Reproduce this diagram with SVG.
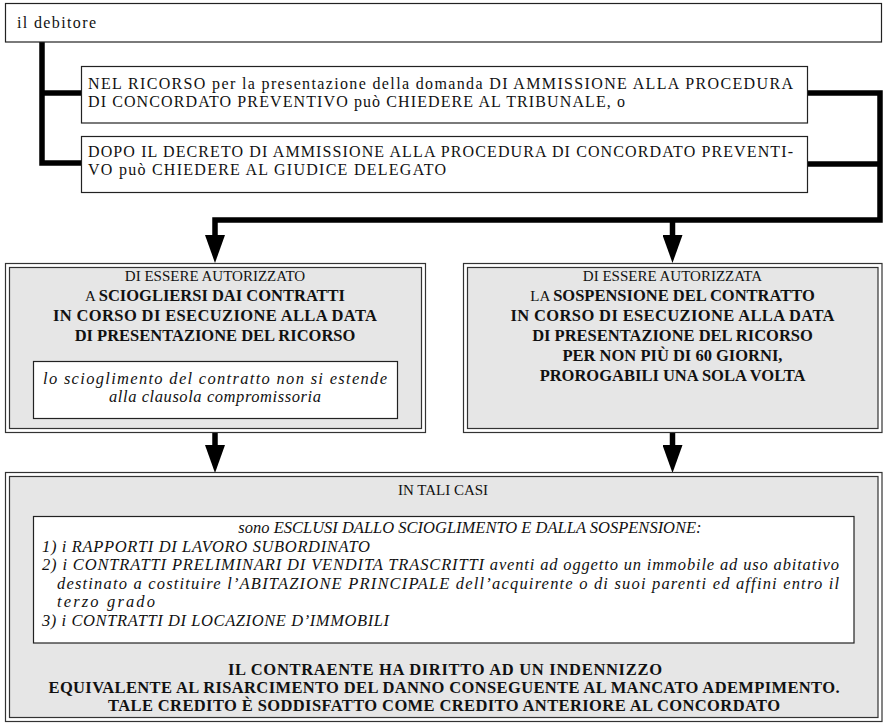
<svg xmlns="http://www.w3.org/2000/svg" width="885" height="723" viewBox="0 0 885 723">
<style>
  text { font-family: "Liberation Serif", "Times New Roman", serif; fill: #111; }
  .t17 { font-size: 16px; }
  .reg { font-size: 15px; }
  .b { font-weight: bold; font-size: 16.5px; }
  .it { font-style: italic; font-size: 16.5px; }
  .c { text-anchor: middle; }
  .box { fill: #fff; stroke: #222; stroke-width: 1.2; }
  .outer { fill: #fff; stroke: #333; stroke-width: 1.2; }
  .inner { fill: #e6e6e6; stroke: #333; stroke-width: 1.2; }
  .conn { fill: none; stroke: #000; stroke-width: 5.5; stroke-linejoin: miter; stroke-linecap: butt; }
</style>
<defs>
  <marker id="ah" markerUnits="userSpaceOnUse" viewBox="0 0 28 20" markerWidth="28" markerHeight="20" refX="0" refY="10" orient="auto">
    <path d="M0,0 L28,10 L0,20 Z" fill="#000"/>
  </marker>
</defs>

<g id="connectors">
  <path class="conn" d="M42,42 V163 H82"/>
  <path class="conn" d="M42,93 H82"/>
  <path class="conn" d="M807,93 H880 V220 H215 V235" marker-end="url(#ah)"/>
  <path class="conn" d="M807,164 H880"/>
  <path class="conn" d="M672.5,220 V235" marker-end="url(#ah)"/>
  <path class="conn" d="M215,433 V445" marker-end="url(#ah)"/>
  <path class="conn" d="M672.5,433 V445" marker-end="url(#ah)"/>
</g>

<g id="debitore">
  <rect class="box" x="5.5" y="3.5" width="876" height="38.5"/>
  <text class="t17" x="17" y="28" textLength="79">il debitore</text>
</g>

<g id="ricorso">
  <rect class="box" x="81.5" y="66.5" width="726" height="56.5"/>
  <text class="t17" x="88" y="89" textLength="705">NEL RICORSO per la presentazione della domanda DI AMMISSIONE ALLA PROCEDURA</text>
  <text class="t17" x="88" y="107" textLength="537">DI CONCORDATO PREVENTIVO può CHIEDERE AL TRIBUNALE, o</text>
</g>

<g id="decreto">
  <rect class="box" x="81.5" y="136.5" width="726" height="56"/>
  <text class="t17" x="88" y="157" textLength="705">DOPO IL DECRETO DI AMMISSIONE ALLA PROCEDURA DI CONCORDATO PREVENTI-</text>
  <text class="t17" x="88" y="175" textLength="358">VO può CHIEDERE AL GIUDICE DELEGATO</text>
</g>

<g id="scioglimento">
  <rect class="outer" x="5.5" y="263.5" width="420" height="169"/>
  <rect class="inner" x="9.5" y="267.5" width="412" height="161"/>
  <text class="reg c" x="215" y="281">DI ESSERE AUTORIZZATO</text>
  <text class="b c" x="215" y="301"><tspan font-weight="normal" font-size="15px">A </tspan>SCIOGLIERSI DAI CONTRATTI</text>
  <text class="b c" x="215" y="321" textLength="324">IN CORSO DI ESECUZIONE ALLA DATA</text>
  <text class="b c" x="215" y="341">DI PRESENTAZIONE DEL RICORSO</text>
  <rect class="box" x="33.5" y="361.5" width="364" height="57"/>
  <text class="it c" x="215" y="384" textLength="344">lo scioglimento del contratto non si estende</text>
  <text class="it c" x="215" y="402" textLength="212">alla clausola compromissoria</text>
</g>

<g id="sospensione">
  <rect class="outer" x="463.5" y="263.5" width="418.5" height="169"/>
  <rect class="inner" x="467.5" y="267.5" width="410.5" height="161"/>
  <text class="reg c" x="672.5" y="281">DI ESSERE AUTORIZZATA</text>
  <text class="b c" x="672.5" y="301"><tspan font-weight="normal" font-size="15px">LA </tspan>SOSPENSIONE DEL CONTRATTO</text>
  <text class="b c" x="672.5" y="321" textLength="324">IN CORSO DI ESECUZIONE ALLA DATA</text>
  <text class="b c" x="672.5" y="341">DI PRESENTAZIONE DEL RICORSO</text>
  <text class="b c" x="672.5" y="361">PER NON PIÙ DI 60 GIORNI,</text>
  <text class="b c" x="672.5" y="381">PROROGABILI UNA SOLA VOLTA</text>
</g>

<g id="casi">
  <rect class="outer" x="5.5" y="472.5" width="876.5" height="249"/>
  <rect class="inner" x="9.5" y="476.5" width="868.5" height="241"/>
  <text class="reg c" x="443" y="495">IN TALI CASI</text>
  <rect class="box" x="33.5" y="516.5" width="820.5" height="126.5"/>
  <text class="it c" x="470" y="533">sono ESCLUSI DALLO SCIOGLIMENTO E DALLA SOSPENSIONE:</text>
  <text class="it" x="42" y="552" textLength="328">1) i RAPPORTI DI LAVORO SUBORDINATO</text>
  <text class="it" x="42" y="570" textLength="797">2) i CONTRATTI PRELIMINARI DI VENDITA TRASCRITTI aventi ad oggetto un immobile ad uso abitativo</text>
  <text class="it" x="57" y="589" textLength="782">destinato a costituire l’ABITAZIONE PRINCIPALE dell’acquirente o di suoi parenti ed affini entro il</text>
  <text class="it" x="57" y="607" textLength="98">terzo grado</text>
  <text class="it" x="42" y="626" textLength="347">3) i CONTRATTI DI LOCAZIONE D’IMMOBILI</text>
  <text class="b c" x="445" y="675" textLength="434">IL CONTRAENTE HA DIRITTO AD UN INDENNIZZO</text>
  <text class="b c" x="444" y="693" textLength="791">EQUIVALENTE AL RISARCIMENTO DEL DANNO CONSEGUENTE AL MANCATO ADEMPIMENTO.</text>
  <text class="b c" x="444" y="711" textLength="672">TALE CREDITO È SODDISFATTO COME CREDITO ANTERIORE AL CONCORDATO</text>
</g>
</svg>
